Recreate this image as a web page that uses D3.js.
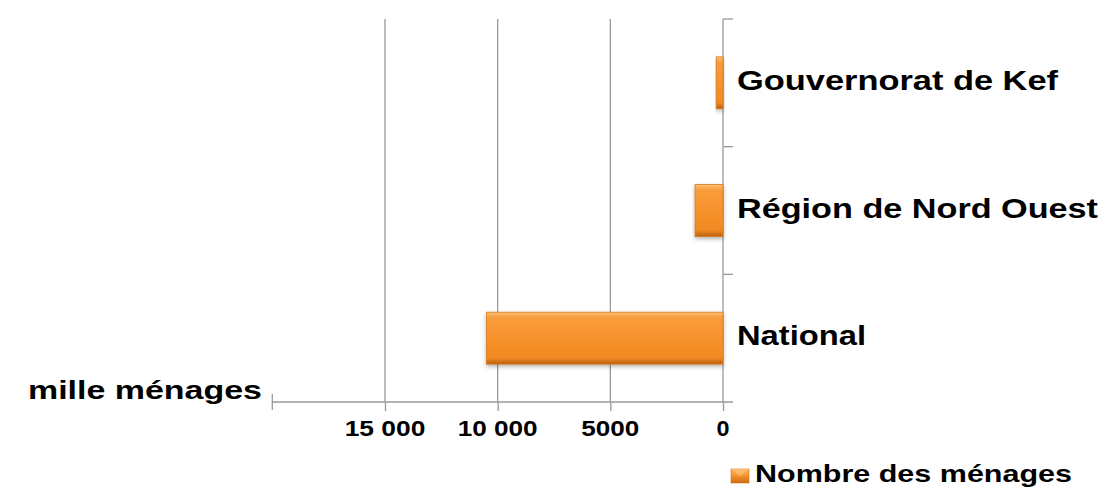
<!DOCTYPE html>
<html>
<head>
<meta charset="utf-8">
<script src="https://cdn.jsdelivr.net/npm/d3@7"></script>
<style>
  body { margin: 0; background: #fff; }
  svg text { font-family: "Liberation Sans", Arial, sans-serif; font-weight: bold; fill: #000; }
</style>
</head>
<body>
<svg id="chart" width="1106" height="488"></svg>
<script>
// data
const categories = ["Gouvernorat de Kef", "Région de Nord Ouest", "National"];
const values = [300, 1240, 10500];
const tickValues = [0, 5000, 10000, 15000];
const tickLabels = ["0", "5000", "10 000", "15 000"];
const seriesName = "Nombre des ménages";
const unitLabel = "mille ménages";

const svg = d3.select("#chart");

// gradients / shadow
const defs = svg.append("defs");
const grad = defs.append("linearGradient")
  .attr("id", "bar-grad")
  .attr("x1", 0).attr("y1", 0).attr("x2", 0).attr("y2", 1);
[["0%", "#fcc27a"], ["10%", "#f99d3c"], ["50%", "#f7922c"], ["88%", "#f08a22"], ["100%", "#b8600f"]]
  .forEach(([o, c]) => grad.append("stop").attr("offset", o).attr("stop-color", c));

defs.append("filter")
  .attr("id", "bar-shadow")
  .attr("x", "-10%").attr("y", "-10%").attr("width", "130%").attr("height", "140%")
  .append("feDropShadow")
  .attr("stdDeviation", "2")
  .attr("flood-opacity", "0.3")
  .attr("dx", "0")
  .attr("dy", "2");

// scales
const x = d3.scaleLinear().domain([0, 20000]).range([723, 272.3]);
const y = d3.scaleBand()
  .domain(categories)
  .range([19, 402])
  .paddingInner(0.593)
  .paddingOuter(0.2965);

const axisColor = "#9a9a9a";

// gridlines
svg.append("g")
  .selectAll("line")
  .data(tickValues.filter(d => d > 0))
  .join("line")
  .attr("x1", d => x(d)).attr("x2", d => x(d))
  .attr("y1", 19).attr("y2", 402)
  .attr("stroke", axisColor)
  .attr("stroke-width", 1.3);

// value axis (bottom)
const xAxis = d3.axisBottom(x)
  .tickValues(tickValues)
  .tickSize(9)
  .tickSizeOuter(0)
  .tickFormat((d, i) => tickLabels[i]);

const gx = svg.append("g")
  .attr("transform", "translate(0,402)")
  .call(xAxis);
gx.select(".domain").remove();
gx.selectAll(".tick line").attr("stroke", axisColor).attr("stroke-width", 1.3);
gx.selectAll(".tick text").remove();
gx.append("line")
  .attr("x1", x(20000)).attr("x2", 733)
  .attr("y1", 0).attr("y2", 0)
  .attr("stroke", axisColor).attr("stroke-width", 1.3);
gx.append("line")
  .attr("x1", x(20000)).attr("x2", x(20000))
  .attr("y1", -8).attr("y2", 8)
  .attr("stroke", axisColor).attr("stroke-width", 1.3);

const tickTextWidth = { "0": 13, "5000": 58, "10 000": 80, "15 000": 80.7 };
svg.append("g")
  .selectAll("text")
  .data(tickValues)
  .join("text")
  .attr("x", d => x(d))
  .attr("y", 436)
  .attr("text-anchor", "middle")
  .attr("font-size", 22)
  .attr("textLength", (d, i) => tickTextWidth[tickLabels[i]])
  .attr("lengthAdjust", "spacingAndGlyphs")
  .text((d, i) => tickLabels[i]);

// category axis (vertical line at zero)
const gy = svg.append("g");
gy.append("line")
  .attr("x1", x(0)).attr("x2", x(0))
  .attr("y1", 19).attr("y2", 402)
  .attr("stroke", axisColor).attr("stroke-width", 1.3);
const bounds = [y.range()[0], ...categories.slice(1).map(c => y(c) - y.step() * y.paddingInner() / 2)];
gy.selectAll("line.tick")
  .data(bounds)
  .join("line")
  .attr("class", "tick")
  .attr("x1", x(0)).attr("x2", 733)
  .attr("y1", d => d).attr("y2", d => d)
  .attr("stroke", axisColor).attr("stroke-width", 1.3);

// bars
svg.append("g")
  .selectAll("rect")
  .data(values)
  .join("rect")
  .attr("x", d => x(d))
  .attr("y", (d, i) => y(categories[i]))
  .attr("width", d => x(0) - x(d))
  .attr("height", y.bandwidth())
  .attr("fill", "url(#bar-grad)")
  .attr("stroke", "#d9781a")
  .attr("stroke-width", 0.8)
  .attr("filter", "url(#bar-shadow)");

// category labels
const catWidth = { "Gouvernorat de Kef": 321, "Région de Nord Ouest": 361, "National": 129 };
svg.append("g")
  .selectAll("text")
  .data(categories)
  .join("text")
  .attr("x", 737)
  .attr("y", d => y(d) + y.bandwidth() / 2 + 7)
  .attr("font-size", 28)
  .attr("textLength", d => catWidth[d])
  .attr("lengthAdjust", "spacingAndGlyphs")
  .text(d => d);

// unit label
svg.append("text")
  .attr("x", 28)
  .attr("y", 399)
  .attr("font-size", 25)
  .attr("textLength", 234)
  .attr("lengthAdjust", "spacingAndGlyphs")
  .text(unitLabel);

// legend
const lgGrad = defs.append("linearGradient")
  .attr("id", "lg-grad")
  .attr("x1", 0).attr("y1", 0).attr("x2", 0).attr("y2", 1);
[["0%", "#fbb35e"], ["50%", "#f7922c"], ["100%", "#c96a15"]]
  .forEach(([o, c]) => lgGrad.append("stop").attr("offset", o).attr("stop-color", c));
const legend = svg.append("g").attr("transform", "translate(731,469)");
legend.append("rect")
  .attr("width", 18).attr("height", 14)
  .attr("fill", "url(#lg-grad)")
  .attr("stroke", "#d9781a").attr("stroke-width", 0.6);
legend.append("path")
  .attr("d", "M0,0 L9,7 L18,0 Z")
  .attr("fill", "#fcc27a").attr("opacity", 0.7);
legend.append("text")
  .attr("x", 24)
  .attr("y", 13)
  .attr("font-size", 24)
  .attr("textLength", 317)
  .attr("lengthAdjust", "spacingAndGlyphs")
  .text(seriesName);
</script>
</body>
</html>
